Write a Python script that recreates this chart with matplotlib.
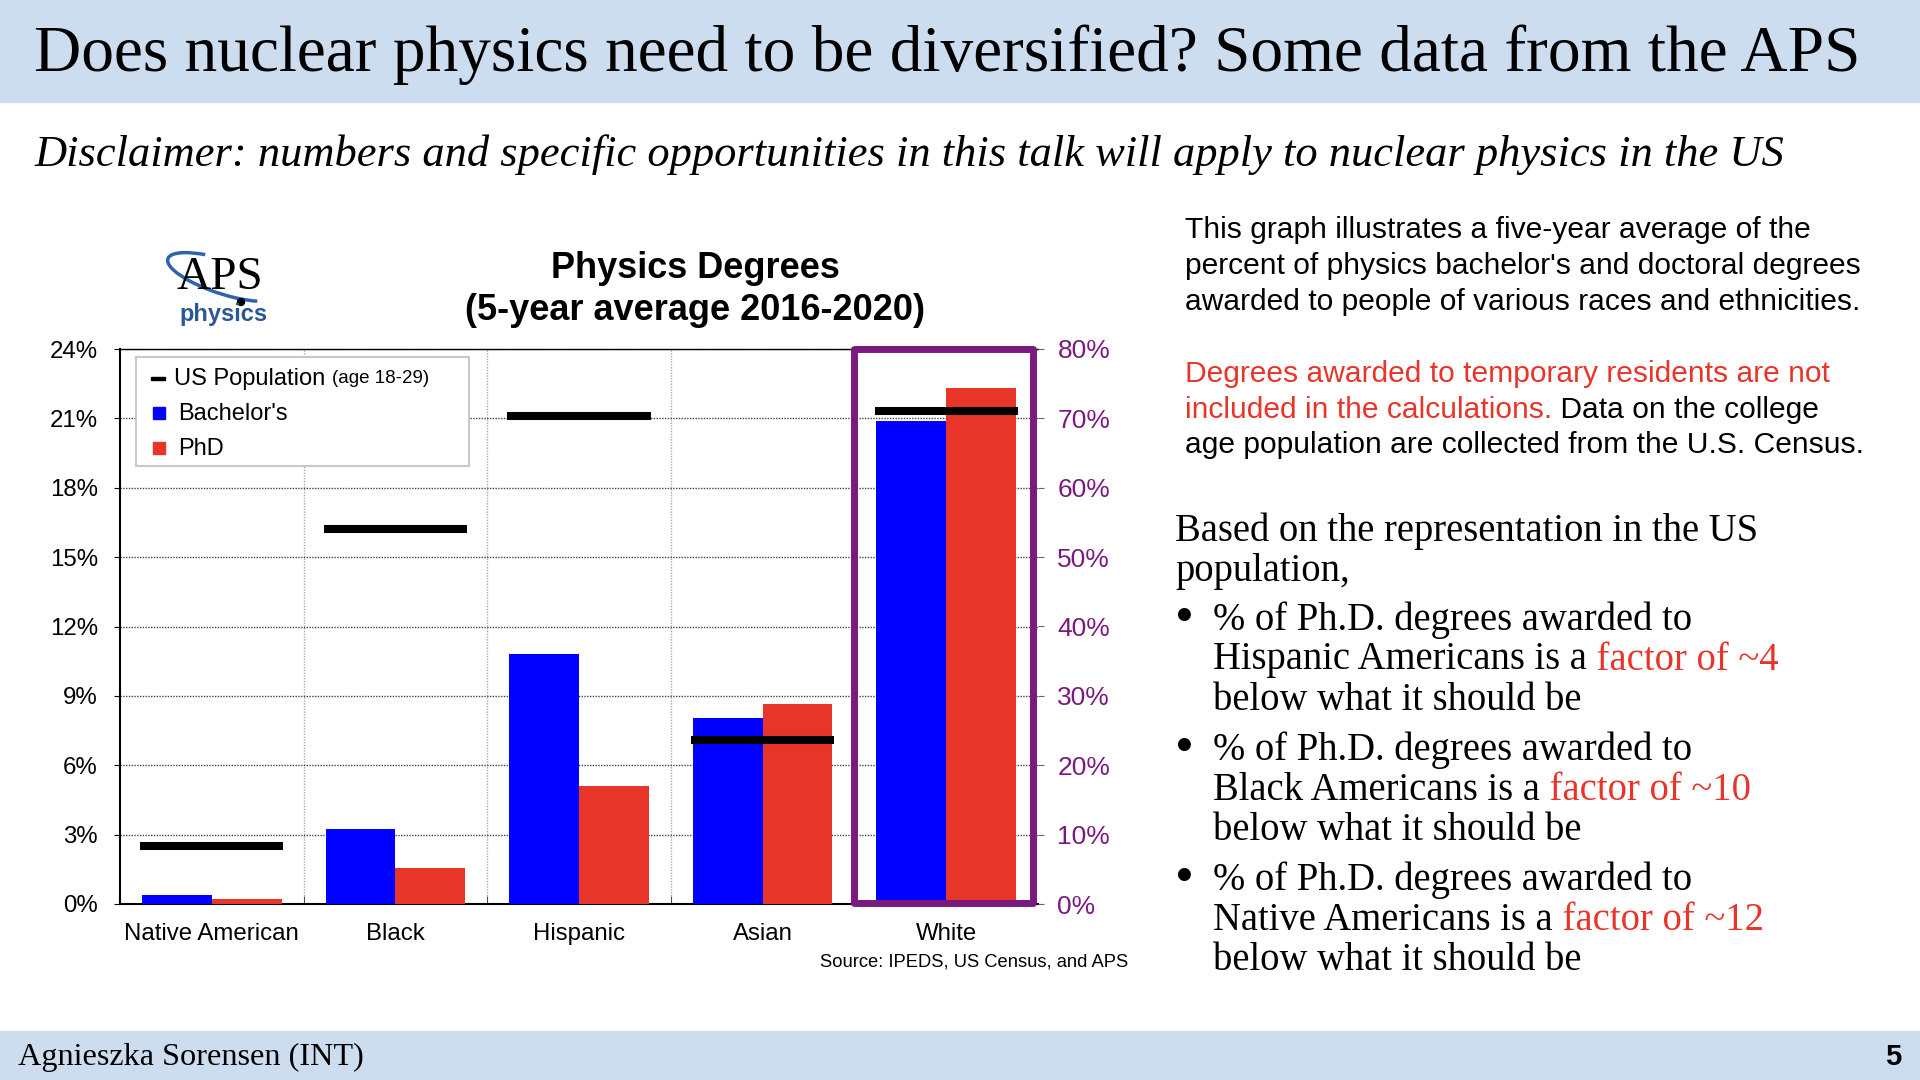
import numpy as np
import matplotlib.pyplot as plt
from matplotlib.patches import Rectangle, Arc, Circle

plt.rcParams['font.family'] = ['Liberation Sans', 'DejaVu Sans']

# data, percent of degrees / population
groups = ["Native American", "Black", "Hispanic", "Asian", "White"]
bachelors = [0.38, 3.25, 10.8, 8.05, 69.6]
phd = [0.2, 1.54, 5.1, 8.67, 74.4]
population = [2.5, 16.2, 21.1, 7.1, 71.1]
left_ticks = [0, 3, 6, 9, 12, 15, 18, 21, 24]
right_ticks = [0, 10, 20, 30, 40, 50, 60, 70, 80]

BLUE = "#0000FF"
RED = "#E8352A"
PURPLE = "#7A1A7E"
BAND = "#CCDDF0"
SERIF = "Liberation Serif"
W, H = 1920, 1080

fig = plt.figure(figsize=(19.2, 10.8), dpi=100)
renderer = fig.canvas.get_renderer()


# helpers working in pixel coords measured from the top-left corner
def fx(x):
    return x / W


def fy(y):
    return 1 - y / H


def put(x, y, s, **kw):
    kw.setdefault("va", "center")
    return fig.text(fx(x), fy(y), s, **kw)


def width_of(s, **kw):
    t = fig.text(0, 0, s, **kw)
    w = t.get_window_extent(renderer).width
    t.remove()
    return w


def fit(t, width):
    w = t.get_window_extent(renderer).width
    t.set_fontsize(t.get_fontsize() * width / w)
    return t.get_fontsize()


def runs(x, y, parts, **kw):
    prefix = ""
    for s, color, *extra in parts:
        dx = width_of(prefix + "x", **kw) - width_of("x", **kw) if prefix else 0
        opts = dict(kw, **(extra[0] if extra else {}))
        put(x + dx, y, s, color=color, **opts)
        prefix += s


# slide header / footer
fig.add_artist(Rectangle((0, fy(102)), 1, 102 / H, transform=fig.transFigure,
                         color=BAND, zorder=0))
fig.add_artist(Rectangle((0, 0), 1, 49 / H, transform=fig.transFigure,
                         color=BAND, zorder=0))
t = put(34, 55, "Does nuclear physics need to be diversified? Some data from the APS",
        family=SERIF, fontsize=40)
fit(t, 1824)
t = put(34, 155, "Disclaimer: numbers and specific opportunities in this talk will apply "
        "to nuclear physics in the US", family=SERIF, style="italic", fontsize=30)
fit(t, 1749)
t = put(18, 1057, "Agnieszka Sorensen (INT)", family=SERIF, fontsize=20)
fit(t, 346)
put(1893, 1057, "5", ha="center", fontsize=21, weight="bold")

# chart
ax = fig.add_axes([fx(120), fy(904), (1038 - 120) / W, (904 - 349) / H])
x = np.arange(len(groups))
w = 0.38
ax.bar(x[:4] - w / 2, bachelors[:4], w, color=BLUE, zorder=3)
ax.bar(x[:4] + w / 2, phd[:4], w, color=RED, zorder=3)
ax.hlines(population[:4], x[:4] - 0.39, x[:4] + 0.39, color="black", lw=5.8,
          capstyle="butt", zorder=4)
ax.set_xlim(-0.5, 4.5)
ax.set_ylim(0, 24)
ax.set_axisbelow(True)
ax.set_yticks(left_ticks)
ax.set_yticklabels([f"{v}%" for v in left_ticks])
ax.set_xticks(x)
ax.set_xticklabels(groups)
ax.set_xticks(x[:-1] + 0.5, minor=True)
ax.yaxis.grid(True, linestyle=(0, (1, 1)), color="#444444", lw=1)
ax.xaxis.grid(True, which="minor", linestyle=(0, (1, 1)), color="#AAAAAA", lw=1)
ax.tick_params(axis="y", labelsize=17.3, length=4, direction="out", pad=12)
ax.tick_params(axis="x", which="major", labelsize=17.3, length=0, pad=14)
ax.tick_params(axis="x", which="minor", length=6, direction="in", color="#333333")
ax.spines["left"].set_linewidth(1.5)
ax.spines["bottom"].set_linewidth(1.5)
ax.spines["top"].set_linewidth(1.0)
ax.spines["right"].set_visible(False)

# White plotted on its own 0-80% scale
ax2 = ax.twinx()
ax2.bar(x[4] - w / 2, bachelors[4], w, color=BLUE, zorder=3)
ax2.bar(x[4] + w / 2, phd[4], w, color=RED, zorder=3)
ax2.hlines(population[4], x[4] - 0.39, x[4] + 0.39, color="black", lw=5.8,
           capstyle="butt", zorder=4)
ax2.set_ylim(0, 80)
ax2.set_yticks(right_ticks)
ax2.set_yticklabels([f"{v}%" for v in right_ticks], color=PURPLE)
ax2.tick_params(axis="y", labelsize=19, length=4, color="#666666", pad=10)
for s in ax2.spines.values():
    s.set_visible(False)
ax2.add_patch(Rectangle((3.5, 0.05), 0.973, 23.95, transform=ax.transData,
                        fill=False, ec=PURPLE, lw=5, joinstyle="round",
                        clip_on=False, zorder=6))

put(695, 269, "Physics Degrees", ha="center", fontsize=26, weight="bold")
put(695, 311, "(5-year average 2016-2020)", ha="center", fontsize=26, weight="bold")
put(1128, 962, "Source: IPEDS, US Census, and APS", ha="right", fontsize=13.2)

# legend
fig.add_artist(Rectangle((fx(136), fy(466)), (469 - 136) / W, (466 - 357) / H,
                         transform=fig.transFigure, fc="white", ec="#C8C8C8",
                         lw=1.5, zorder=2))
fig.add_artist(Rectangle((fx(151), fy(379.5)), 14 / W, 3 / H,
                         transform=fig.transFigure, color="black", zorder=3))
fig.add_artist(Rectangle((fx(153), fy(419)), 12 / W, 12 / H,
                         transform=fig.transFigure, color=BLUE, zorder=3))
fig.add_artist(Rectangle((fx(153), fy(454)), 12 / W, 12 / H,
                         transform=fig.transFigure, color=RED, zorder=3))
runs(174, 379, [("US Population ", "black"),
                ("(age 18-29)", "black", dict(fontsize=13.5, va="center"))],
     fontsize=17)
put(178, 414, "Bachelor's", fontsize=17)
put(178, 449, "PhD", fontsize=17)

# APS logo
lg = fig.add_axes([fx(165), fy(330), 115 / W, 90 / H])
lg.set_xlim(165, 280)
lg.set_ylim(1080 - 330, 1080 - 240)
lg.axis("off")
lg.add_patch(Arc((224, 803), 118, 34, angle=-18, theta1=148, theta2=342,
                 color="#2E63B0", lw=2.5))
lg.text(220, 802, "APS", family=SERIF, fontsize=34, ha="center", va="center")
lg.add_patch(Circle((241, 778), 3.5, color="black"))
lg.text(224, 765, "physics", fontsize=17, color="#2B5797", ha="center",
        va="center", weight="bold")

# right-hand text
kw = dict(fontsize=19)
size = fit(put(1185, 266, "percent of physics bachelor's and doctoral degrees", **kw), 676)
kw = dict(fontsize=size)
put(1185, 230, "This graph illustrates a five-year average of the", **kw)
put(1185, 302, "awarded to people of various races and ethnicities.", **kw)
put(1185, 374, "Degrees awarded to temporary residents are not", color=RED, **kw)
runs(1185, 410, [("included in the calculations.", RED), (" Data on the college", "black")], **kw)
put(1185, 445, "age population are collected from the U.S. Census.", **kw)

t = put(1175, 531, "Based on the representation in the US", family=SERIF, fontsize=25)
ssize = fit(t, 585)
skw = dict(family=SERIF, fontsize=ssize)
put(1175, 571, "population,", **skw)
bullets = [("Hispanic Americans is a", " factor of ~4"),
           ("Black Americans is a", " factor of ~10"),
           ("Native Americans is a", " factor of ~12")]
for i, (lead, factor) in enumerate(bullets):
    y0 = 620 + i * 130
    put(1184, y0, "\u2022", ha="center", family=SERIF, fontsize=ssize * 1.4)
    put(1213, y0, "% of Ph.D. degrees awarded to", **skw)
    runs(1213, y0 + 40, [(lead, "black"), (factor, RED)], **skw)
    put(1213, y0 + 80, "below what it should be", **skw)

fig.savefig("out.png", dpi=100)
